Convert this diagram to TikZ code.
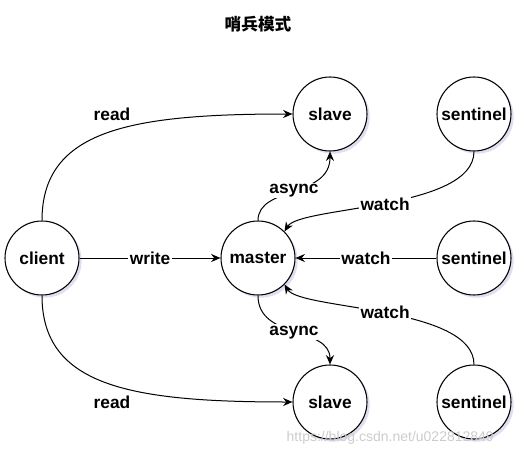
\documentclass[tikz,border=0pt]{standalone}
\usepackage{fontspec}
\setmainfont{Liberation Sans}
\newfontfamily\cjkfont{Noto Sans CJK SC}
\usepackage{tikz}
\usetikzlibrary{positioning,arrows.meta,shadows}

\begin{document}
\begin{tikzpicture}[
  x=0.75pt, y=-0.75pt,
  >={Stealth[length=7pt,width=6pt]},
  role/.style={draw, circle, line width=0.8pt, fill=white, minimum size=55.5pt, inner sep=0pt, font=\fontsize{13}{14}\selectfont\bfseries,
    drop shadow={opacity=0.18, shadow xshift=2pt, shadow yshift=-2pt, fill=blue!40!gray}},
  lbl/.style={fill=white, inner sep=1pt, font=\fontsize{13}{14}\selectfont\bfseries},
  arr/.style={->, line width=0.75pt},
]
\useasboundingbox (0,0) rectangle (529,457);

% Title
\node[font=\cjkfont\fontsize{12.5}{13}\selectfont\bfseries] (title) at (258,24) {哨兵模式};

% Redis nodes
\node[role] (client) at (42,258) {client};
\node[role] (master) at (258,258) {master};
\node[role] (slaveA) at (330,114) {slave};
\node[role] (slaveB) at (330,402) {slave};

% Sentinels
\node[role] (sentA) at (474,114) {sentinel};
\node[role] (sentB) at (474,258) {sentinel};
\node[role] (sentC) at (474,402) {sentinel};

% Client reads and writes
\draw[arr] (client.north) .. controls (42,130) and (130,114) .. (slaveA.west);
\draw[arr] (client.south) .. controls (42,386) and (130,402) .. (slaveB.west);
\node[lbl] (readA) at (112,114) {read};
\node[lbl] (readB) at (112,402) {read};
\draw[arr] (client) -- (master) node[lbl, midway] (write) {write};

% Replication
\draw[arr] (master.north) .. controls (258,186) and (330,198) .. (slaveA.south) node[lbl, pos=0.5] (asyncA) {async};
\draw[arr] (master.south) .. controls (258,340) and (330,326) .. (slaveB.north) node[lbl, pos=0.5] (asyncB) {async};

% Sentinels watch master
\draw[arr] (sentA.south) .. controls (474,210) and (300,206) .. (master.north east) node[lbl, pos=0.5] (watchA) {watch};
\draw[arr] (sentB) -- (master) node[lbl, midway] (watchB) {watch};
\draw[arr] (sentC.north) .. controls (474,306) and (300,310) .. (master.south east) node[lbl, pos=0.5] (watchC) {watch};

% Watermark
\node[gray!40, font=\fontsize{10.5}{11}\selectfont, anchor=west] (mark) at (282,438) {https://blog.csdn.net/u022812849};

\end{tikzpicture}
\end{document}
